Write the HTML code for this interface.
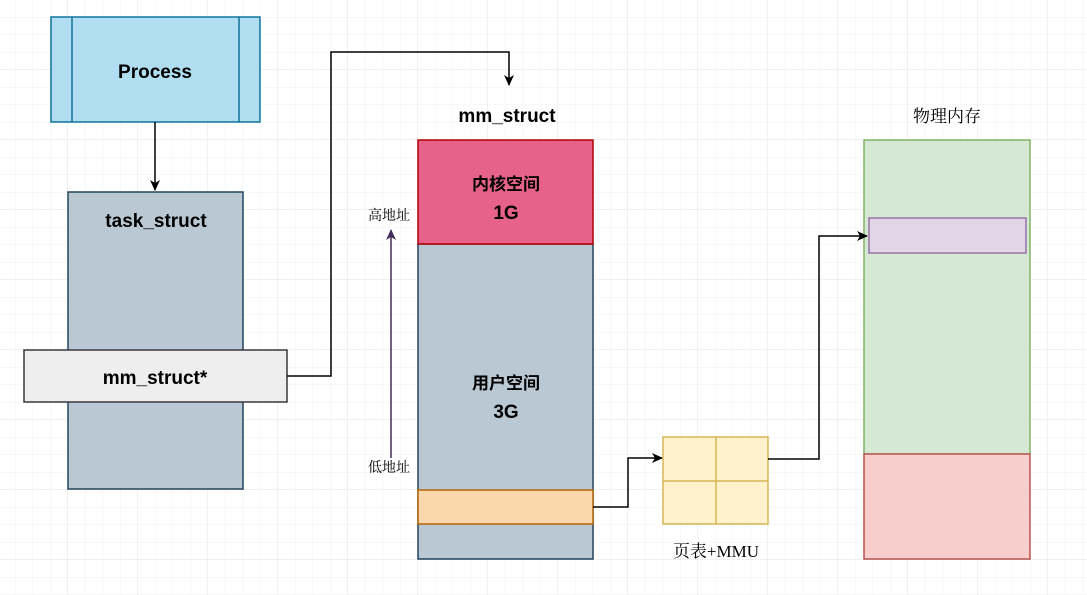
<!DOCTYPE html>
<html><head><meta charset="utf-8"><style>
html,body{margin:0;padding:0;background:#fff;}
svg{display:block;}
text{font-family:"Comic Sans MS","Liberation Sans","Noto Sans CJK SC",sans-serif;font-weight:bold;fill:#000;}
.s{font-family:"Liberation Serif","Noto Serif CJK SC",serif;font-weight:normal;}
</style></head><body>
<svg width="1087" height="595" viewBox="0 0 1087 595" xmlns="http://www.w3.org/2000/svg">
<defs>
<pattern id="mn" width="17.5" height="17.5" patternUnits="userSpaceOnUse" x="-2" y="0">
<path d="M17.5 0V17.5M0 17.5H17.5" stroke="#f2f2f2" stroke-width="1" fill="none"/></pattern>
<pattern id="mj" width="70" height="70" patternUnits="userSpaceOnUse" x="-2" y="0">
<path d="M70 0V70M0 70H70" stroke="#e3e3e3" stroke-width="1" fill="none"/></pattern>
<marker id="ah" markerWidth="12" markerHeight="12" refX="10" refY="6" orient="auto" markerUnits="userSpaceOnUse">
<path d="M0,1 L11,6 L0,11 L3,6 Z" fill="#000"/></marker>
<marker id="ap" markerWidth="12" markerHeight="12" refX="10" refY="6" orient="auto" markerUnits="userSpaceOnUse">
<path d="M0,1 L11,6 L0,11 L3,6 Z" fill="#432d57"/></marker>
</defs>
<rect width="1087" height="595" fill="url(#mn)"/>
<rect width="1087" height="595" fill="url(#mj)"/>

<rect x="51" y="17" width="209" height="105" fill="#b1ddf0" stroke="#10739e" stroke-width="1.5"/>
<line x1="72" y1="17" x2="72" y2="122" stroke="#10739e" stroke-width="1.5"/>
<line x1="239" y1="17" x2="239" y2="122" stroke="#10739e" stroke-width="1.5"/>
<text x="155" y="78" font-size="19" text-anchor="middle">Process</text>
<line x1="155" y1="122" x2="155" y2="190" stroke="#000" stroke-width="1.5" marker-end="url(#ah)"/>

<rect x="68" y="192" width="175" height="297" fill="#bac8d3" stroke="#23445d" stroke-width="1.5"/>
<text x="156" y="227" font-size="19" text-anchor="middle">task_struct</text>
<rect x="24" y="350" width="263" height="52" fill="#eeeeee" stroke="#36393d" stroke-width="1.5"/>
<text x="155" y="384" font-size="19" text-anchor="middle">mm_struct*</text>

<polyline points="287,376 331,376 331,52 509,52 509,85" fill="none" stroke="#000" stroke-width="1.5" marker-end="url(#ah)"/>
<text x="507" y="122" font-size="19" text-anchor="middle">mm_struct</text>

<rect x="418" y="244" width="175" height="315" fill="#bac8d3" stroke="#23445d" stroke-width="1.5"/>
<rect x="418" y="140" width="175" height="104" fill="#e6628b" stroke="#b20000" stroke-width="1.5"/>
<text x="506" y="190" font-size="17" text-anchor="middle">内核空间</text>
<text x="506" y="219" font-size="19" text-anchor="middle">1G</text>
<text x="506" y="389" font-size="17" text-anchor="middle">用户空间</text>
<text x="506" y="418" font-size="19" text-anchor="middle">3G</text>
<rect x="418" y="490" width="175" height="34" fill="#fad7ac" stroke="#b46504" stroke-width="1.5"/>

<line x1="391" y1="458" x2="391" y2="230" stroke="#432d57" stroke-width="1.5" marker-end="url(#ap)"/>
<text class="s" x="389" y="220" font-size="14" text-anchor="middle">高地址</text>
<text class="s" x="389" y="472" font-size="14" text-anchor="middle">低地址</text>

<polyline points="593,507 628,507 628,458 662,458" fill="none" stroke="#000" stroke-width="1.5" marker-end="url(#ah)"/>
<rect x="663" y="437" width="105" height="87" fill="#fff2cc" stroke="#d6b656" stroke-width="1.5"/>
<line x1="716" y1="437" x2="716" y2="524" stroke="#d6b656" stroke-width="1.5"/>
<line x1="663" y1="481" x2="768" y2="481" stroke="#d6b656" stroke-width="1.5"/>
<text class="s" x="716" y="557" font-size="17" text-anchor="middle">页表+MMU</text>

<rect x="864" y="140" width="166" height="314" fill="#d5e8d4" stroke="#82b366" stroke-width="1.5"/>
<rect x="864" y="454" width="166" height="105" fill="#f8cecc" stroke="#b85450" stroke-width="1.5"/>
<rect x="869" y="218" width="157" height="35" fill="#e1d5e7" stroke="#9673a6" stroke-width="1.5"/>
<polyline points="768,459 819,459 819,236 867,236" fill="none" stroke="#000" stroke-width="1.5" marker-end="url(#ah)"/>
<text class="s" x="947" y="122" font-size="17" text-anchor="middle">物理内存</text>
</svg>
</body></html>
